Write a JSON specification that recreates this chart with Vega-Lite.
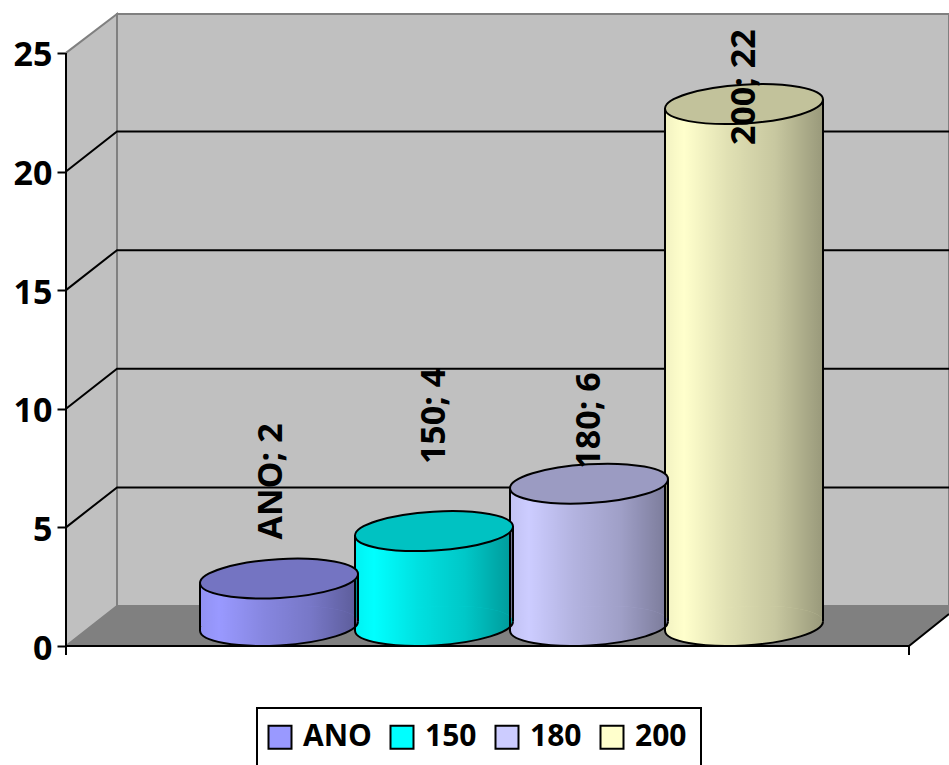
{
"$schema":"https://vega.github.io/schema/vega-lite/v6.json",
"width":883,"height":646,"autosize":"none",
"padding":{"left":66,"top":0,"right":0,"bottom":119},
"background":"white",
"config":{"view":{"stroke":null},"font":"Open Sans","legend":{"strokeWidth":2},
 "axisY":{"domain":false,"grid":false,"title":null,"tickColor":"black","tickWidth":2,"tickSize":9,"labelFont":"Open Sans","labelFontWeight":"bold","labelFontSize":34,"labelColor":"black","labelPadding":5,"labelOffset":3,"labelBound":false,"labelOverlap":false,"labelFlush":false}},
"datasets":{
"bars":[{"series":"ANO","value":2,"label":"ANO; 2"},{"series":"150","value":4,"label":"150; 4"},{"series":"180","value":6,"label":"180; 6"},{"series":"200","value":22,"label":"200; 22"}],
"side":[{"u":0,"top":25,"bottom":0},{"u":51,"top":26.64,"bottom":1.686}],
"back":[{"u":51,"top":26.64,"bottom":1.686},{"u":883,"top":26.64,"bottom":1.686}],
"floor":[{"u":0,"top":0,"bottom":0},{"u":51,"top":1.686,"bottom":0},{"u":843,"top":1.686,"bottom":0},{"u":883,"top":1.686,"bottom":1.35}],
"lines":[
{"seg":"g5","u":0,"v":5},{"seg":"g5","u":51,"v":6.686},{"seg":"g5","u":883,"v":6.686},
{"seg":"g10","u":0,"v":10},{"seg":"g10","u":51,"v":11.686},{"seg":"g10","u":883,"v":11.686},
{"seg":"g15","u":0,"v":15},{"seg":"g15","u":51,"v":16.686},{"seg":"g15","u":883,"v":16.686},
{"seg":"g20","u":0,"v":20},{"seg":"g20","u":51,"v":21.686},{"seg":"g20","u":883,"v":21.686},
{"seg":"yaxis","u":0,"v":0},{"seg":"yaxis","u":0,"v":25},
{"seg":"xaxis","u":0,"v":-0.38},{"seg":"xaxis","u":0,"v":0},{"seg":"xaxis","u":843,"v":0},{"seg":"xaxis","u":883,"v":1.35},
{"seg":"xtick","u":843,"v":0},{"seg":"xtick","u":843,"v":-0.38}
]},
"resolve":{"scale":{"x":"independent"}},
"layer":[
{"data":{"name":"side"},"mark":{"type":"area","fill":"#c0c0c0","stroke":"#808080","strokeWidth":2},
 "encoding":{"x":{"field":"u","type":"quantitative","axis":null,"scale":{"domain":[0,883],"nice":false,"zero":false}},
 "y":{"field":"top","type":"quantitative","title":null,"scale":{"domain":[0,27.23],"nice":false},"axis":{"values":[0,5,10,15,20,25]}},
 "y2":{"field":"bottom"}}},
{"data":{"name":"back"},"mark":{"type":"area","fill":"#c0c0c0","stroke":"#808080","strokeWidth":2},
 "encoding":{"x":{"field":"u","type":"quantitative","axis":null,"scale":{"domain":[0,883],"nice":false,"zero":false}},
 "y":{"field":"top","type":"quantitative","title":null,"scale":{"domain":[0,27.23],"nice":false},"axis":{"values":[0,5,10,15,20,25]}},"y2":{"field":"bottom"}}},
{"data":{"name":"floor"},"mark":{"type":"area","fill":"#808080"},
 "encoding":{"x":{"field":"u","type":"quantitative","axis":null,"scale":{"domain":[0,883],"nice":false,"zero":false}},
 "y":{"field":"top","type":"quantitative","title":null,"scale":{"domain":[0,27.23],"nice":false},"axis":{"values":[0,5,10,15,20,25]}},"y2":{"field":"bottom"}}},
{"data":{"name":"lines"},"mark":{"type":"line","color":"black","strokeWidth":2,"clip":false},
 "encoding":{"x":{"field":"u","type":"quantitative","axis":null,"scale":{"domain":[0,883],"nice":false,"zero":false}},
 "y":{"field":"v","type":"quantitative","title":null,"scale":{"domain":[0,27.23],"nice":false},"axis":{"values":[0,5,10,15,20,25]}},"detail":{"field":"seg"}}},

{"data":{"name":"bars"},"mark":{"type":"bar","width":158,"yOffset":-20,"y2Offset":-20},
 "encoding":{"x":{"field":"series","type":"nominal","axis":null,"scale":{"type":"band","domain":["ANO","150","180","200"],"range":[135.5,755.5],"paddingInner":0,"paddingOuter":0}},
 "y":{"field":"value","type":"quantitative","title":null,"stack":null,"scale":{"domain":[0,27.23],"nice":false},"axis":{"values":[0,5,10,15,20,25]}},"y2":{"datum":0},
 "color":{"field":"series","type":"nominal","title":null,"scale":{"domain":["ANO","150","180","200"],"range":["#9999ff","#00ffff","#ccccff","#ffffcc"]},
  "legend":{"orient":"none","legendX":191,"legendY":708,"direction":"horizontal","columns":4,"columnPadding":14,"symbolType":"square","symbolSize":529,"symbolOffset":-6,"symbolStrokeColor":"black","symbolStrokeWidth":2,"symbolOpacity":1,"labelFont":"Open Sans","labelFontWeight":"bold","labelFontSize":30,"labelColor":"black","labelOffset":8,"labelLimit":200,"padding":14,"strokeColor":"black","fillColor":"white"}}}},
{"data":{"name":"bars"},"mark":{"type":"bar","width":158,"yOffset":-20,"y2Offset":-20,
  "fill":{"gradient":"linear","x1":0,"y1":0,"x2":1,"y2":0,"stops":[{"offset":0,"color":"rgba(0,0,0,0.05)"},{"offset":0.12,"color":"rgba(0,0,0,0)"},{"offset":0.4,"color":"rgba(0,0,0,0.12)"},{"offset":0.7,"color":"rgba(0,0,0,0.22)"},{"offset":1,"color":"rgba(0,0,0,0.4)"}]}},
 "encoding":{"x":{"field":"series","type":"nominal","axis":null,"scale":{"type":"band","domain":["ANO","150","180","200"],"range":[135.5,755.5],"paddingInner":0,"paddingOuter":0}},
 "y":{"field":"value","type":"quantitative","title":null,"stack":null,"scale":{"domain":[0,27.23],"nice":false},"axis":{"values":[0,5,10,15,20,25]}},"y2":{"datum":0}}},
{"data":{"name":"bars"},"mark":{"type":"point","shape":"M-1,0.06A1,0.245 -3.5 1 1 1,-0.06A1,0.245 -3.5 1 1 -1,0.06Z","size":24964,"filled":true,"opacity":1,"yOffset":-20},
 "encoding":{"x":{"field":"series","type":"nominal","axis":null,"scale":{"type":"band","domain":["ANO","150","180","200"],"range":[135.5,755.5],"paddingInner":0,"paddingOuter":0}},
 "y":{"datum":0,"type":"quantitative","title":null,"scale":{"domain":[0,27.23],"nice":false},"axis":{"values":[0,5,10,15,20,25]}},
 "color":{"field":"series","type":"nominal","title":null,"scale":{"domain":["ANO","150","180","200"],"range":["#9999ff","#00ffff","#ccccff","#ffffcc"]}}}},
{"data":{"name":"bars"},"mark":{"type":"point","shape":"M-1,0.06A1,0.245 -3.5 1 1 1,-0.06A1,0.245 -3.5 1 1 -1,0.06Z","size":24964,"filled":true,"opacity":1,"yOffset":-20,
  "fill":{"gradient":"linear","x1":0,"y1":0,"x2":1,"y2":0,"stops":[{"offset":0,"color":"rgba(0,0,0,0.05)"},{"offset":0.12,"color":"rgba(0,0,0,0)"},{"offset":0.4,"color":"rgba(0,0,0,0.12)"},{"offset":0.7,"color":"rgba(0,0,0,0.22)"},{"offset":1,"color":"rgba(0,0,0,0.4)"}]}},
 "encoding":{"x":{"field":"series","type":"nominal","axis":null,"scale":{"type":"band","domain":["ANO","150","180","200"],"range":[135.5,755.5],"paddingInner":0,"paddingOuter":0}},
 "y":{"datum":0,"type":"quantitative","title":null,"scale":{"domain":[0,27.23],"nice":false},"axis":{"values":[0,5,10,15,20,25]}}}},
{"data":{"name":"bars"},"mark":{"type":"point","shape":"M-1,0.06A1,0.245 -3.5 0 0 1,-0.06","size":24964,"filled":false,"opacity":1,"fill":null,"stroke":"black","strokeWidth":2,"yOffset":-20},
 "encoding":{"x":{"field":"series","type":"nominal","axis":null,"scale":{"type":"band","domain":["ANO","150","180","200"],"range":[135.5,755.5],"paddingInner":0,"paddingOuter":0}},
 "y":{"datum":0,"type":"quantitative","title":null,"scale":{"domain":[0,27.23],"nice":false},"axis":{"values":[0,5,10,15,20,25]}}}},
{"data":{"name":"bars"},"mark":{"type":"rule","color":"black","strokeWidth":2,"xOffset":-79,"yOffset":-15,"y2Offset":-15},
 "encoding":{"x":{"field":"series","type":"nominal","axis":null,"scale":{"type":"band","domain":["ANO","150","180","200"],"range":[135.5,755.5],"paddingInner":0,"paddingOuter":0}},
 "y":{"field":"value","type":"quantitative","title":null,"scale":{"domain":[0,27.23],"nice":false},"axis":{"values":[0,5,10,15,20,25]}},"y2":{"datum":0}}},
{"data":{"name":"bars"},"mark":{"type":"rule","color":"black","strokeWidth":2,"xOffset":79,"yOffset":-25,"y2Offset":-25},
 "encoding":{"x":{"field":"series","type":"nominal","axis":null,"scale":{"type":"band","domain":["ANO","150","180","200"],"range":[135.5,755.5],"paddingInner":0,"paddingOuter":0}},
 "y":{"field":"value","type":"quantitative","title":null,"scale":{"domain":[0,27.23],"nice":false},"axis":{"values":[0,5,10,15,20,25]}},"y2":{"datum":0}}},
{"data":{"name":"bars"},"mark":{"type":"point","shape":"M-1,0.06A1,0.245 -3.5 1 1 1,-0.06A1,0.245 -3.5 1 1 -1,0.06Z","size":24964,"filled":true,"opacity":1,"yOffset":-20},
 "encoding":{"x":{"field":"series","type":"nominal","axis":null,"scale":{"type":"band","domain":["ANO","150","180","200"],"range":[135.5,755.5],"paddingInner":0,"paddingOuter":0}},
 "y":{"field":"value","type":"quantitative","title":null,"scale":{"domain":[0,27.23],"nice":false},"axis":{"values":[0,5,10,15,20,25]}},
 "color":{"field":"series","type":"nominal","title":null,"scale":{"domain":["ANO","150","180","200"],"range":["#9999ff","#00ffff","#ccccff","#ffffcc"]}}}},
{"data":{"name":"bars"},"mark":{"type":"point","shape":"M-1,0.06A1,0.245 -3.5 1 1 1,-0.06A1,0.245 -3.5 1 1 -1,0.06Z","size":24964,"filled":true,"opacity":1,"fill":"black","fillOpacity":0.24,"stroke":"black","strokeWidth":2,"strokeOpacity":1,"yOffset":-20},
 "encoding":{"x":{"field":"series","type":"nominal","axis":null,"scale":{"type":"band","domain":["ANO","150","180","200"],"range":[135.5,755.5],"paddingInner":0,"paddingOuter":0}},
 "y":{"field":"value","type":"quantitative","title":null,"scale":{"domain":[0,27.23],"nice":false},"axis":{"values":[0,5,10,15,20,25]}}}},
{"data":{"name":"bars"},"transform":[{"filter":"datum.series==='ANO'"}],"mark":{"type":"text","angle":270,"align":"left","baseline":"middle","font":"Open Sans","fontWeight":"bold","fontSize":34,"color":"black","xOffset":-7,"yOffset":-59},
 "encoding":{"x":{"field":"series","type":"nominal","axis":null,"scale":{"type":"band","domain":["ANO","150","180","200"],"range":[135.5,755.5],"paddingInner":0,"paddingOuter":0}},
 "y":{"field":"value","type":"quantitative","title":null,"scale":{"domain":[0,27.23],"nice":false},"axis":{"values":[0,5,10,15,20,25]}},"text":{"field":"label"}}},
{"data":{"name":"bars"},"transform":[{"filter":"datum.series==='150'"}],"mark":{"type":"text","angle":270,"align":"left","baseline":"middle","font":"Open Sans","fontWeight":"bold","fontSize":34,"color":"black","xOffset":1,"yOffset":-87},
 "encoding":{"x":{"field":"series","type":"nominal","axis":null,"scale":{"type":"band","domain":["ANO","150","180","200"],"range":[135.5,755.5],"paddingInner":0,"paddingOuter":0}},
 "y":{"field":"value","type":"quantitative","title":null,"scale":{"domain":[0,27.23],"nice":false},"axis":{"values":[0,5,10,15,20,25]}},"text":{"field":"label"}}},
{"data":{"name":"bars"},"transform":[{"filter":"datum.series==='180'"}],"mark":{"type":"text","angle":270,"align":"left","baseline":"middle","font":"Open Sans","fontWeight":"bold","fontSize":34,"color":"black","xOffset":1,"yOffset":-35},
 "encoding":{"x":{"field":"series","type":"nominal","axis":null,"scale":{"type":"band","domain":["ANO","150","180","200"],"range":[135.5,755.5],"paddingInner":0,"paddingOuter":0}},
 "y":{"field":"value","type":"quantitative","title":null,"scale":{"domain":[0,27.23],"nice":false},"axis":{"values":[0,5,10,15,20,25]}},"text":{"field":"label"}}},
{"data":{"name":"bars"},"transform":[{"filter":"datum.series==='200'"}],"mark":{"type":"text","angle":270,"align":"left","baseline":"middle","font":"Open Sans","fontWeight":"bold","fontSize":34,"color":"black","xOffset":1,"yOffset":21},
 "encoding":{"x":{"field":"series","type":"nominal","axis":null,"scale":{"type":"band","domain":["ANO","150","180","200"],"range":[135.5,755.5],"paddingInner":0,"paddingOuter":0}},
 "y":{"field":"value","type":"quantitative","title":null,"scale":{"domain":[0,27.23],"nice":false},"axis":{"values":[0,5,10,15,20,25]}},"text":{"field":"label"}}}
]
}
